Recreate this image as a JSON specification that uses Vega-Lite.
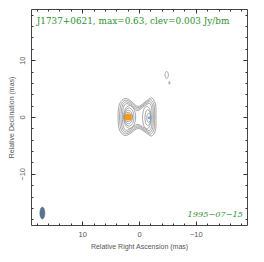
{
  "$schema": "https://vega.github.io/schema/vega-lite/v6.json",
  "width": 216,
  "height": 216,
  "autosize": "none",
  "padding": {"left": 31, "top": 9, "right": 17, "bottom": 37},
  "background": "white",
  "config": {
    "view": {"stroke": "#444", "strokeWidth": 1},
    "axis": {"grid": false, "domain": false, "ticks": true, "tickColor": "#333", "tickWidth": 1, "labelColor": "#555", "titleColor": "#555", "labelFont": "Liberation Sans", "titleFont": "Liberation Sans", "labelFontSize": 7.5, "titleFontSize": 7, "titleFontWeight": "normal", "labelFlush": false, "labelOverlap": false}
  },
  "datasets": {
    "contours": [
      {"c":1,"i":0,"x":3.69,"y":0},{"c":1,"i":1,"x":3.43,"y":2.29},{"c":1,"i":2,"x":2.46,"y":3.25},{"c":1,"i":3,"x":1.41,"y":2.81},{"c":1,"i":4,"x":0.18,"y":1.85},{"c":1,"i":5,"x":-1.06,"y":2.64},{"c":1,"i":6,"x":-2.2,"y":3.34},{"c":1,"i":7,"x":-2.9,"y":2.29},{"c":1,"i":8,"x":-2.99,"y":0},{"c":1,"i":9,"x":-2.9,"y":-2.29},{"c":1,"i":10,"x":-2.2,"y":-3.34},{"c":1,"i":11,"x":-1.06,"y":-2.64},{"c":1,"i":12,"x":0.18,"y":-2.02},{"c":1,"i":13,"x":1.41,"y":-2.81},{"c":1,"i":14,"x":2.46,"y":-3.25},{"c":1,"i":15,"x":3.43,"y":-2.29},
      {"c":2,"i":0,"x":3.42,"y":0},{"c":2,"i":1,"x":3.18,"y":2.1},{"c":2,"i":2,"x":2.4,"y":2.95},{"c":2,"i":3,"x":1.4,"y":2.55},{"c":2,"i":4,"x":0.22,"y":1.62},{"c":2,"i":5,"x":-1.0,"y":2.4},{"c":2,"i":6,"x":-2.05,"y":3.02},{"c":2,"i":7,"x":-2.65,"y":2.1},{"c":2,"i":8,"x":-2.75,"y":0},{"c":2,"i":9,"x":-2.65,"y":-2.1},{"c":2,"i":10,"x":-2.05,"y":-3.02},{"c":2,"i":11,"x":-1.0,"y":-2.4},{"c":2,"i":12,"x":0.22,"y":-1.78},{"c":2,"i":13,"x":1.4,"y":-2.55},{"c":2,"i":14,"x":2.4,"y":-2.95},{"c":2,"i":15,"x":3.18,"y":-2.1},
      {"c":3,"i":0,"x":3.17,"y":0},{"c":3,"i":1,"x":2.95,"y":1.9},{"c":3,"i":2,"x":2.35,"y":2.65},{"c":3,"i":3,"x":1.4,"y":2.28},{"c":3,"i":4,"x":0.26,"y":1.38},{"c":3,"i":5,"x":-0.95,"y":2.15},{"c":3,"i":6,"x":-1.9,"y":2.7},{"c":3,"i":7,"x":-2.42,"y":1.9},{"c":3,"i":8,"x":-2.52,"y":0},{"c":3,"i":9,"x":-2.42,"y":-1.9},{"c":3,"i":10,"x":-1.9,"y":-2.7},{"c":3,"i":11,"x":-0.95,"y":-2.15},{"c":3,"i":12,"x":0.26,"y":-1.55},{"c":3,"i":13,"x":1.4,"y":-2.28},{"c":3,"i":14,"x":2.35,"y":-2.65},{"c":3,"i":15,"x":2.95,"y":-1.9},
      {"c":4,"i":0,"x":2.93,"y":0},{"c":4,"i":1,"x":2.73,"y":1.68},{"c":4,"i":2,"x":2.25,"y":2.35},{"c":4,"i":3,"x":1.38,"y":2.0},{"c":4,"i":4,"x":0.3,"y":1.12},{"c":4,"i":5,"x":-0.9,"y":1.88},{"c":4,"i":6,"x":-1.78,"y":2.38},{"c":4,"i":7,"x":-2.2,"y":1.7},{"c":4,"i":8,"x":-2.3,"y":0},{"c":4,"i":9,"x":-2.2,"y":-1.7},{"c":4,"i":10,"x":-1.78,"y":-2.38},{"c":4,"i":11,"x":-0.9,"y":-1.88},{"c":4,"i":12,"x":0.3,"y":-1.3},{"c":4,"i":13,"x":1.38,"y":-2.0},{"c":4,"i":14,"x":2.25,"y":-2.35},{"c":4,"i":15,"x":2.73,"y":-1.68},
      {"c":5,"i":0,"x":2.72,"y":0},{"c":5,"i":1,"x":2.41,"y":1.41},{"c":5,"i":2,"x":1.65,"y":2.0},{"c":5,"i":3,"x":0.89,"y":1.41},{"c":5,"i":4,"x":0.58,"y":0},{"c":5,"i":5,"x":0.89,"y":-1.41},{"c":5,"i":6,"x":1.65,"y":-2.0},{"c":5,"i":7,"x":2.41,"y":-1.41},
      {"c":6,"i":0,"x":2.62,"y":0},{"c":6,"i":1,"x":2.37,"y":1.13},{"c":6,"i":2,"x":1.75,"y":1.6},{"c":6,"i":3,"x":1.13,"y":1.13},{"c":6,"i":4,"x":0.88,"y":0},{"c":6,"i":5,"x":1.13,"y":-1.13},{"c":6,"i":6,"x":1.75,"y":-1.6},{"c":6,"i":7,"x":2.37,"y":-1.13},
      {"c":7,"i":0,"x":2.57,"y":0},{"c":7,"i":1,"x":2.36,"y":0.83},{"c":7,"i":2,"x":1.85,"y":1.18},{"c":7,"i":3,"x":1.34,"y":0.83},{"c":7,"i":4,"x":1.13,"y":0},{"c":7,"i":5,"x":1.34,"y":-0.83},{"c":7,"i":6,"x":1.85,"y":-1.18},{"c":7,"i":7,"x":2.36,"y":-0.83},
      {"c":8,"i":0,"x":2.58,"y":0},{"c":8,"i":1,"x":2.38,"y":0.58},{"c":8,"i":2,"x":1.9,"y":0.82},{"c":8,"i":3,"x":1.42,"y":0.58},{"c":8,"i":4,"x":1.22,"y":0},{"c":8,"i":5,"x":1.42,"y":-0.58},{"c":8,"i":6,"x":1.9,"y":-0.82},{"c":8,"i":7,"x":2.38,"y":-0.58},
      {"c":9,"i":0,"x":-0.62,"y":-0.1},{"c":9,"i":1,"x":-0.84,"y":1.31},{"c":9,"i":2,"x":-1.38,"y":1.9},{"c":9,"i":3,"x":-1.92,"y":1.31},{"c":9,"i":4,"x":-2.14,"y":-0.1},{"c":9,"i":5,"x":-1.92,"y":-1.51},{"c":9,"i":6,"x":-1.38,"y":-2.1},{"c":9,"i":7,"x":-0.84,"y":-1.51},
      {"c":10,"i":0,"x":-1.05,"y":-0.12},{"c":10,"i":1,"x":-1.2,"y":0.87},{"c":10,"i":2,"x":-1.55,"y":1.28},{"c":10,"i":3,"x":-1.9,"y":0.87},{"c":10,"i":4,"x":-2.05,"y":-0.12},{"c":10,"i":5,"x":-1.9,"y":-1.11},{"c":10,"i":6,"x":-1.55,"y":-1.52},{"c":10,"i":7,"x":-1.2,"y":-1.11},
      {"c":11,"i":0,"x":-1.36,"y":-0.15},{"c":11,"i":1,"x":-1.47,"y":0.42},{"c":11,"i":2,"x":-1.72,"y":0.65},{"c":11,"i":3,"x":-1.97,"y":0.42},{"c":11,"i":4,"x":-2.08,"y":-0.15},{"c":11,"i":5,"x":-1.97,"y":-0.72},{"c":11,"i":6,"x":-1.72,"y":-0.95},{"c":11,"i":7,"x":-1.47,"y":-0.72},
      {"c":12,"i":0,"x":-4.57,"y":7.4},{"c":12,"i":1,"x":-4.66,"y":7.82},{"c":12,"i":2,"x":-4.87,"y":8.0},{"c":12,"i":3,"x":-5.08,"y":7.82},{"c":12,"i":4,"x":-5.17,"y":7.4},{"c":12,"i":5,"x":-5.08,"y":6.98},{"c":12,"i":6,"x":-4.87,"y":6.8},{"c":12,"i":7,"x":-4.66,"y":6.98},
      {"c":13,"i":0,"x":-5.25,"y":6.0},{"c":13,"i":1,"x":-5.35,"y":6.25},{"c":13,"i":2,"x":-5.45,"y":6.0},{"c":13,"i":3,"x":-5.35,"y":5.75}
    ],
    "beam": [
      {"i":0,"x":17.45,"y":-16.9},{"i":1,"x":17.32,"y":-16.16},{"i":2,"x":17.0,"y":-15.85},{"i":3,"x":16.68,"y":-16.16},{"i":4,"x":16.55,"y":-16.9},{"i":5,"x":16.68,"y":-17.64},{"i":6,"x":17.0,"y":-17.95},{"i":7,"x":17.32,"y":-17.64}
    ],
    "components": [
      {"comp":"core","x":1.9,"y":0},
      {"comp":"jet","x":-1.8,"y":-0.15}
    ],
    "labels": [
      {"text": "J1737+0621, max=0.63, clev=0.003 Jy/bm"}
    ],
    "epoch": [
      {"text": "1995\u221207\u221215"}
    ]
  },
  "resolve": {"axis": {"x": "independent", "y": "independent"}},
  "layer": [
    {
      "data": {"name": "contours"},
      "mark": {"type": "line", "interpolate": "cardinal-closed", "stroke": "#8f8f8f", "strokeWidth": 0.8},
      "encoding": {
        "x": {"field": "x", "type": "quantitative", "scale": {"domain": [-19, 19], "reverse": true, "nice": false, "zero": false},
          "axis": {"orient": "bottom", "values": [-10, 0, 10],
            "labelExpr": "datum.value < 0 ? '\u2212' + abs(datum.value) : '' + datum.value",
            "tickSize": 4, "offset": -4, "zindex": 5, "tickColor": "#333", "tickWidth": 1,
            "labelPadding": 5, "title": "Relative Right Ascension (mas)", "titlePadding": 5}},
        "y": {"field": "y", "type": "quantitative", "scale": {"domain": [-19, 19], "nice": false, "zero": false},
          "axis": {"orient": "left", "values": [-10, 0, 10],
            "labelExpr": "datum.value < 0 ? '\u2212' + abs(datum.value) : '' + datum.value",
            "tickSize": 4, "offset": -4, "zindex": 5, "tickColor": "#333", "tickWidth": 1,
            "labelAngle": -90, "labelAlign": "center", "labelBaseline": "bottom",
            "labelPadding": 4.5, "title": "Relative Declination (mas)", "titlePadding": 4}},
        "detail": {"field": "c", "type": "nominal"},
        "order": {"field": "i", "type": "quantitative"}
      }
    },
    {
      "data": {"name": "beam"},
      "mark": {"type": "line", "interpolate": "cardinal-closed", "stroke": "#5b7391", "strokeWidth": 0.5, "fill": "#5b7391"},
      "encoding": {
        "x": {"field": "x", "type": "quantitative",
          "axis": {"orient": "top", "values": [-18,-16,-14,-12,-8,-6,-4,-2,2,4,6,8,12,14,16,18], "labels": false, "title": null,
            "tickSize": 2, "offset": -2, "zindex": 5, "tickColor": "#333", "tickWidth": 1}},
        "y": {"field": "y", "type": "quantitative",
          "axis": {"orient": "right", "values": [-18,-16,-14,-12,-8,-6,-4,-2,2,4,6,8,12,14,16,18], "labels": false, "title": null,
            "tickSize": 2, "offset": -2, "zindex": 5, "tickColor": "#333", "tickWidth": 1}},
        "order": {"field": "i", "type": "quantitative"}
      }
    },
    {
      "data": {"name": "components"},
      "mark": {"type": "point", "filled": true, "opacity": 1, "shape": "circle"},
      "encoding": {
        "x": {"field": "x", "type": "quantitative",
          "axis": {"orient": "bottom", "values": [-18,-16,-14,-12,-8,-6,-4,-2,2,4,6,8,12,14,16,18], "labels": false, "title": null,
            "tickSize": 2, "offset": -2, "zindex": 5, "tickColor": "#333", "tickWidth": 1}},
        "y": {"field": "y", "type": "quantitative",
          "axis": {"orient": "left", "values": [-18,-16,-14,-12,-8,-6,-4,-2,2,4,6,8,12,14,16,18], "labels": false, "title": null,
            "tickSize": 2, "offset": -2, "zindex": 5, "tickColor": "#333", "tickWidth": 1}},
        "color": {"field": "comp", "type": "nominal", "scale": {"domain": ["core", "jet"], "range": ["#f7980d", "#5fb0ff"]}, "legend": null},
        "size": {"field": "comp", "type": "nominal", "scale": {"domain": ["core", "jet"], "range": [50, 9]}, "legend": null}
      }
    },
    {
      "data": {"name": "labels"},
      "mark": {"type": "text", "align": "left", "baseline": "middle", "font": "DejaVu Serif", "fontSize": 8.9, "color": "#2f8f2f"},
      "encoding": {
        "x": {"datum": 18.0, "type": "quantitative",
          "axis": {"orient": "top", "values": [-10, 0, 10], "labels": false, "title": null, "tickSize": 4, "offset": -4, "zindex": 5, "tickColor": "#333", "tickWidth": 1}},
        "y": {"datum": 16.9, "type": "quantitative",
          "axis": {"orient": "right", "values": [-10, 0, 10], "labels": false, "title": null, "tickSize": 4, "offset": -4, "zindex": 5, "tickColor": "#333", "tickWidth": 1}},
        "text": {"field": "text", "type": "nominal"}
      }
    },
    {
      "data": {"name": "epoch"},
      "mark": {"type": "text", "align": "right", "baseline": "middle", "font": "DejaVu Serif", "fontSize": 8.2, "fontStyle": "italic", "color": "#2f8f2f"},
      "encoding": {
        "x": {"datum": -18.3, "type": "quantitative", "axis": null},
        "y": {"datum": -17.3, "type": "quantitative", "axis": null},
        "text": {"field": "text", "type": "nominal"}
      }
    }
  ]
}
